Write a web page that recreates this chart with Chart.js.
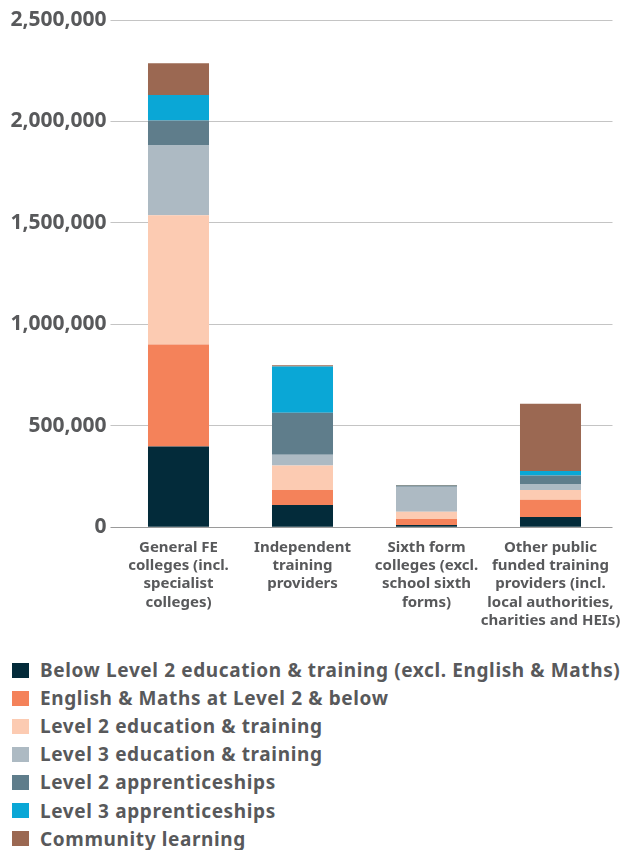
<!DOCTYPE html>
<html><head><meta charset="utf-8">
<script src="https://cdn.jsdelivr.net/npm/chart.js@4.4.1/dist/chart.umd.min.js"></script>
<style>
html,body{margin:0;padding:0;background:#fff;overflow:hidden;}
#wrap{position:relative;width:621px;height:640px;}
canvas{display:block;}
#legend{margin:16px 0 0 0;padding:0;list-style:none;font-family:"Noto Sans";font-weight:700;font-size:19px;letter-spacing:0.62px;color:#58595b;}
#legend li{height:28.1px;display:flex;align-items:center;white-space:nowrap;}
#legend span.box{display:inline-block;width:17px;height:15px;margin-left:12px;margin-right:11px;flex:none;}
</style></head><body>
<div id="wrap"><canvas id="c" width="621" height="640" style="width:621px;height:640px"></canvas></div>
<ul id="legend"></ul>
<script>
const categories = [
  ["General FE","colleges (incl.","specialist","colleges)"],
  ["Independent","training","providers"],
  ["Sixth form","colleges (excl.","school sixth","forms)"],
  ["Other public","funded training","providers (incl.","local authorities,","charities and HEIs)"]
];
const seriesNames = [
  "Below Level 2 education & training (excl. English & Maths)",
  "English & Maths at Level 2 & below",
  "Level 2 education & training",
  "Level 3 education & training",
  "Level 2 apprenticeships",
  "Level 3 apprenticeships",
  "Community learning"
];
const belowLevel2   = [398000, 110000, 11000, 51000];
const englishMaths  = [503000,  74000, 30000, 85000];
const level2Edu     = [637000, 120000, 36000, 48000];
const level3Edu     = [344000,  53000,123000, 30000];
const level2App     = [123000, 207000,  4000, 41000];
const level3App     = [125000, 229000,  1000, 23000];
const community     = [157000,   5000,  3000,331000];
const yTicks = [0, 500000, 1000000, 1500000, 2000000, 2500000];

const seriesValues = [belowLevel2, englishMaths, level2Edu, level3Edu, level2App, level3App, community];
const colors = ["#032b3a","#f4825a","#fccbb2","#adbac3","#5f7d8b","#0aa7d6","#9b6852"];
const textColor = "#58595b";

const chart = new Chart(document.getElementById('c'), {
  type: 'bar',
  data: {
    labels: categories,
    datasets: seriesValues.map((vals, i) => ({
      label: seriesNames[i],
      data: vals,
      backgroundColor: colors[i],
      borderWidth: 0,
      categoryPercentage: 1,
      barPercentage: 0.492
    }))
  },
  options: {
    responsive: false,
    maintainAspectRatio: false,
    animation: false,
    devicePixelRatio: 1,
    layout: {padding: {top: 20, right: 8.5, left: 0, bottom: 0}},
    plugins: {legend: {display: false}, tooltip: {enabled: false}},
    scales: {
      x: {
        stacked: true,
        grid: {display: false, drawTicks: false},
        border: {display: false},
        afterFit: s => { s.height = 640 - 527.3; s.paddingLeft = 0; s.paddingRight = 0; },
        ticks: {
          color: textColor,
          padding: 11,
          maxRotation: 0,
          autoSkip: false,
          font: {family: 'Noto Sans', weight: 'bold', size: 15, lineHeight: 1.22}
        }
      },
      y: {
        stacked: true,
        min: 0,
        max: 2500000,
        afterBuildTicks: s => { s.ticks = yTicks.map(v => ({value: v})); },
        afterFit: s => { s.width = 116.5; },
        border: {display: false},
        grid: {
          color: ctx => (ctx.tick && ctx.tick.value === 0) ? '#9a9a9a' : '#c4c4c4',
          lineWidth: 1,
          tickLength: 6,
          drawTicks: true
        },
        ticks: {
          color: textColor,
          padding: 4,
          font: {family: 'Noto Sans', weight: 'bold', size: 21},
          callback: v => v.toLocaleString('en-US')
        }
      }
    }
  }
});

const ul = document.getElementById('legend');
chart.data.datasets.forEach(ds => {
  const li = document.createElement('li');
  const box = document.createElement('span');
  box.className = 'box';
  box.style.background = ds.backgroundColor;
  const t = document.createElement('span');
  t.textContent = ds.label;
  li.appendChild(box); li.appendChild(t);
  ul.appendChild(li);
});
</script>
</body></html>
